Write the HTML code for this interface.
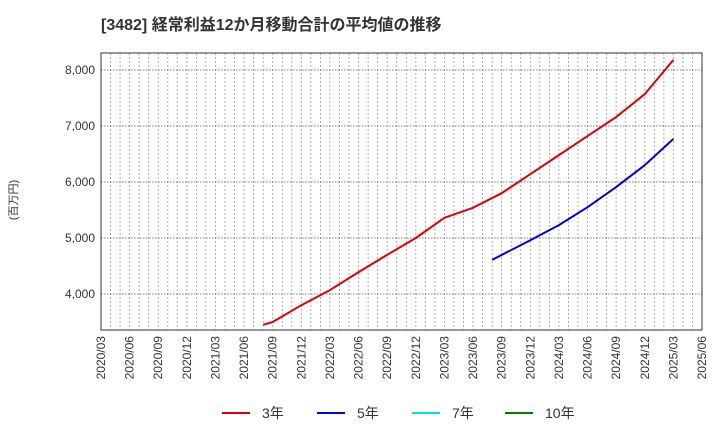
<!DOCTYPE html>
<html><head><meta charset="utf-8"><style>
body{margin:0;background:#fff;}
svg{display:block;font-family:"Liberation Sans","Noto Sans CJK JP",sans-serif;}
</style></head><body>
<svg id="c" width="720" height="440" xmlns="http://www.w3.org/2000/svg">
<text x="101" y="30" font-size="16" font-weight="bold" fill="#333">[3482]  経常利益12か月移動合計の平均値の推移</text>
<text transform="translate(17,200) rotate(-90)" font-size="11" fill="#333" text-anchor="middle">(百万円)</text>
<g id="grid"></g>
<g id="series"></g>
<rect x="101" y="53" width="601" height="277" fill="none" stroke="#333" stroke-width="1"/>
<g id="legend"></g>
</svg>
<script>
const xTickLabels=["2020/03","2020/06","2020/09","2020/12","2021/03","2021/06","2021/09","2021/12","2022/03","2022/06","2022/09","2022/12","2023/03","2023/06","2023/09","2023/12","2024/03","2024/06","2024/09","2024/12","2025/03","2025/06"];
const yTicks=[4000,5000,6000,7000,8000];
const red3Dates=["2021/08","2021/09","2021/12","2022/03","2022/06","2022/09","2022/12","2023/03","2023/06","2023/09","2023/12","2024/03","2024/06","2024/09","2024/12","2025/03"];
const red3Values=[3450,3500,3800,4070,4390,4700,5000,5360,5540,5800,6140,6480,6820,7160,7570,8180];
const blue5Dates=["2023/08","2023/12","2024/03","2024/06","2024/09","2024/12","2025/03"];
const blue5Values=[4610,4960,5230,5550,5910,6300,6770];
const legendLabels=["3年","5年","7年","10年"];
const legendColors=["#e00000","#0000e0","#00e0e0","#008000"];

const X0=101,X1=702,Y0=53,Y1=330;
const m0=2020*12+2, m1=2025*12+5;
function mi(s){const[a,b]=s.split("/").map(Number);return a*12+b-1;}
function xs(s){return X0+(mi(s)-m0)/(m1-m0)*(X1-X0);}
function xm(m){return X0+(m-m0)/(m1-m0)*(X1-X0);}
function ys(v){return 294-(v-4000)*0.056;}
const NS="http://www.w3.org/2000/svg";
function mk(t,a,p){const e=document.createElementNS(NS,t);for(const k in a)e.setAttribute(k,a[k]);p.appendChild(e);return e;}
const grid=document.getElementById("grid");
for(let m=m0+1;m<m1;m++){
 const l=mk("line",{x1:xm(m),x2:xm(m),y1:Y0,y2:Y1,stroke:"#999","stroke-width":0.8,"stroke-dasharray":"2,2"},grid);
 
 
}
yTicks.forEach(v=>{
 const l=mk("line",{x1:X0,x2:X1,y1:ys(v),y2:ys(v),stroke:"#555","stroke-width":0.8,"stroke-dasharray":"1.5,1.5"},grid);
 
 
 const t=mk("text",{x:X0-6,y:ys(v)+4,"font-size":12,fill:"#333","text-anchor":"end"},grid);
 t.textContent=v.toLocaleString("en-US");
 
 
});
xTickLabels.forEach(s=>{
 const x=xs(s);
 const t=mk("text",{transform:`translate(${x+4},${Y1+6}) rotate(-90)`,"font-size":12,fill:"#333","text-anchor":"end"},grid);
 t.textContent=s;
 
 
});
const ser=document.getElementById("series");
function line(d,v,c,n){
 const p=mk("polyline",{points:d.map((s,i)=>xs(s)+","+ys(v[i])).join(" "),fill:"none",stroke:c,"stroke-width":2,"stroke-linejoin":"round"},ser);
 
 
}
line(red3Dates,red3Values,"#e00000","line-3yr");
line(blue5Dates,blue5Values,"#0000e0","line-5yr");
const lg=document.getElementById("legend");
const lx=[222,317,412,505];
legendLabels.forEach((s,i)=>{
 const l=mk("line",{x1:lx[i],x2:lx[i]+28,y1:413,y2:413,stroke:legendColors[i],"stroke-width":2},lg);
 
 
 const t=mk("text",{x:lx[i]+40,y:418,"font-size":14,fill:"#333"},lg);
 t.textContent=s;
 
 
});
</script>
</body></html>
